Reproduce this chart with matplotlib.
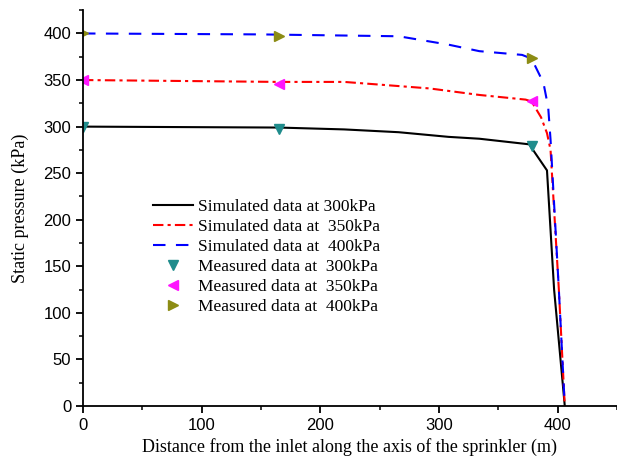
import numpy as np
import matplotlib
matplotlib.use('Agg')
import matplotlib.pyplot as plt
from matplotlib.ticker import MultipleLocator

# simulated curves (distance in m, pressure in kPa)
sim_x_300 = [0, 165, 220, 266, 308, 334, 376, 391, 397, 406]
sim_y_300 = [300, 299, 297, 294, 289, 287, 281, 253, 125, 0]
sim_x_350 = [0, 165, 220, 292, 334, 373, 378, 386, 391, 394, 401, 406]
sim_y_350 = [350, 348, 348, 341, 334, 329, 327, 310, 293, 275, 125, 0]
sim_x_400 = [0, 150, 266, 308, 334, 370, 378, 388, 392, 394, 401, 406]
sim_y_400 = [400, 399, 397, 388, 381, 377, 373, 347, 321, 286, 125, 0]

# measured points
meas_x = [0, 165, 378]
meas_300 = [300, 297, 279]
meas_350 = [350, 346, 328]
meas_400 = [400, 397, 374]

serif = 'Liberation Serif'
sans = 'Liberation Sans'

fig = plt.figure(figsize=(6.17, 4.63), dpi=100)
ax = fig.add_axes([0.1345, 0.123, 0.8655, 0.855])

ax.plot(sim_x_300, sim_y_300, color='black', lw=1.5, label='Simulated data at 300kPa')
ax.plot(sim_x_350, sim_y_350, color='red', lw=1.5, linestyle=(0, (5, 2, 1.5, 2)),
        label='Simulated data at  350kPa')
ax.plot(sim_x_400, sim_y_400, color='blue', lw=1.5, linestyle=(0, (6, 5)),
        label='Simulated data at  400kPa')
ax.plot(meas_x, meas_300, 'v', color='#1f8c8c', ms=7, linestyle='none',
        label='Measured data at  300kPa')
ax.plot(meas_x, meas_350, '<', color='#ff14ff', ms=7, linestyle='none',
        label='Measured data at  350kPa')
ax.plot(meas_x, meas_400, '>', color='#8c8c14', ms=7, linestyle='none',
        label='Measured data at  400kPa')

ax.set_xlim(0, 450)
ax.set_ylim(0, 425)
ax.xaxis.set_major_locator(MultipleLocator(100))
ax.xaxis.set_minor_locator(MultipleLocator(50))
ax.yaxis.set_major_locator(MultipleLocator(50))
ax.yaxis.set_minor_locator(MultipleLocator(25))
ax.spines['top'].set_visible(False)
ax.spines['right'].set_visible(False)
for s in ['left', 'bottom']:
    ax.spines[s].set_linewidth(1.3)
ax.tick_params(which='major', direction='out', length=5, width=1.3, labelsize=12)
ax.tick_params(which='minor', direction='out', length=3, width=1.1)
for lab in ax.get_xticklabels() + ax.get_yticklabels():
    lab.set_fontfamily(sans)

ax.set_xlabel('Distance from the inlet along the axis of the sprinkler (m)',
              fontfamily=serif, fontsize=13, labelpad=4)
ax.set_ylabel('Static pressure (kPa)', fontfamily=serif, fontsize=13, labelpad=10)

ax.legend(loc='upper left', bbox_to_anchor=(0.118, 0.54), frameon=False,
          prop={'family': serif, 'size': 12.5}, handlelength=2.3,
          handletextpad=0.3, labelspacing=0.22, borderaxespad=0)

fig.savefig('out.png', dpi=100)
